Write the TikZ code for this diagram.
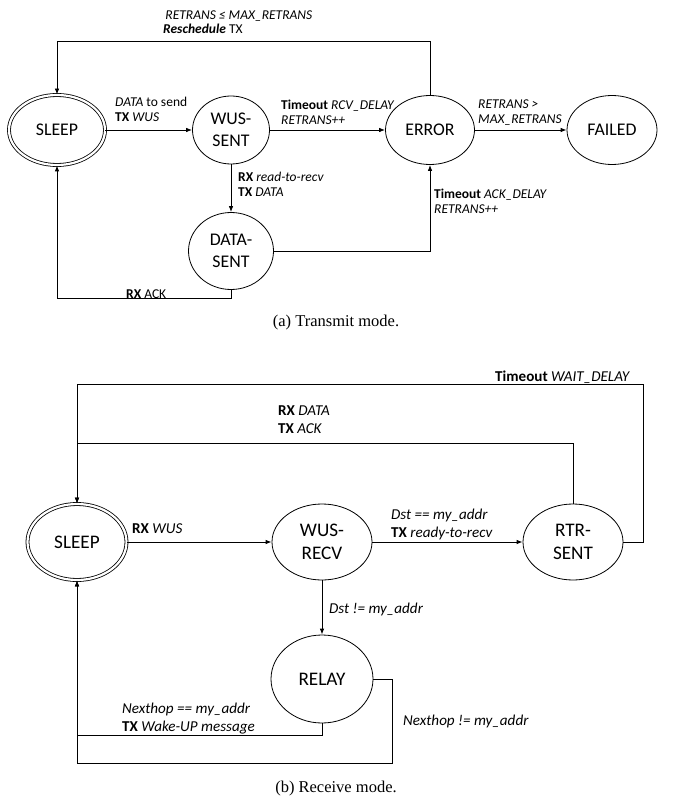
\documentclass[tikz,border=0pt]{standalone}
\usepackage{fontspec}
\setmainfont{Carlito}
\newfontfamily\capfont{Liberation Serif}
\usetikzlibrary{shapes.geometric,arrows.meta}
\begin{document}
\begin{tikzpicture}[x=1pt,y=-1pt,
  st/.style={ellipse,draw,line width=0.8pt,inner sep=0pt,align=center,font=\fontsize{17.8}{21.5}\selectfont},
  stb/.style={st,font=\fontsize{19.2}{23.5}\selectfont},
  start/.style={st,double,double distance=2.2pt},
  startb/.style={stb,double,double distance=2.2pt},
  lbl/.style={anchor=north west,inner sep=0pt,align=left,font=\fontsize{13.5}{15}\selectfont},
  lblb/.style={lbl,font=\fontsize{15.1}{17.5}\selectfont},
  captext/.style={inner sep=0pt,font=\capfont\fontsize{16.5}{18}\selectfont},
  arr/.style={line width=0.8pt,-{Latex[length=6pt,width=4.5pt]}}]
\useasboundingbox (0,0) rectangle (673,802);
% ---------------- (a) Transmit mode
\node[start,minimum width=96pt,minimum height=70pt] (sleep) at (57,130) {SLEEP};
\node[st,minimum width=77pt,minimum height=68pt] (wus) at (231,130) {WUS-\\SENT};
\node[st,minimum width=89pt,minimum height=69pt] (error) at (430,130) {ERROR};
\node[st,minimum width=90pt,minimum height=69pt] (failed) at (612,130) {FAILED};
\node[st,minimum width=85pt,minimum height=77pt] (data) at (231,251) {DATA-\\SENT};
\coordinate (ttop) at (0,41);
\coordinate (tbot) at (0,298);

\draw[arr] (sleep) -- (wus);
\draw[arr] (wus) -- (error);
\draw[arr] (error) -- (failed);
\draw[arr] (wus) -- (data);
\draw[arr] (error.north) |- (sleep.north |- ttop) -- (sleep.north);
\draw[arr] (data.south) |- (sleep.south |- tbot) -- (sleep.south);
\draw[arr] (data.east) -| (error.south);

\node[lbl,font=\fontsize{13.5}{13.5}\selectfont] (l1) at (163,11) {\,\textit{RETRANS ≤ MAX\_RETRANS}\\\textbf{\textit{Reschedule}} TX};
\node[lbl] (l2) at (115,97) {\textit{DATA} to send\\\textbf{TX} \textit{WUS}};
\node[lbl] (l3) at (281,99.5) {\textbf{Timeout} \textit{RCV\_DELAY}\\\textit{RETRANS++}};
\node[lbl] (l4) at (478,100) {\textit{RETRANS >}\\\textit{MAX\_RETRANS}};
\node[lbl] (l5) at (238,171.5) {\textbf{RX} \textit{read-to-recv}\\\textbf{TX} \textit{DATA}};
\node[lbl] (l6) at (434,189) {\textbf{Timeout} \textit{ACK\_DELAY}\\\textit{RETRANS++}};
\node[lbl] (l7) at (126,289.5) {\textbf{RX} ACK};
\node[captext] (capa) at (336,323) {(a) Transmit mode.};

% ---------------- (b) Receive mode
\node[startb,minimum width=99pt,minimum height=76pt] (sleepb) at (77,542) {SLEEP};
\node[stb,minimum width=100pt,minimum height=76pt] (wusr) at (322,542) {WUS-\\RECV};
\node[stb,minimum width=100pt,minimum height=76pt] (rtr) at (573,542) {RTR-\\SENT};
\node[stb,minimum width=102pt,minimum height=88pt] (relay) at (322,679) {RELAY};
\coordinate (wo) at (643,384);
\coordinate (wi) at (0,443);
\coordinate (rb1) at (0,735);
\coordinate (rb2) at (392,763);

\draw[arr] (sleepb) -- (wusr);
\draw[arr] (wusr) -- (rtr);
\draw[arr] (wusr) -- (relay);
\draw[arr] (rtr.east) -| (wo) -| (sleepb.north);
\draw[arr] (rtr.north) |- (sleepb.north |- wi) -- (sleepb.north);
\draw[arr] (relay.south) |- (sleepb.south |- rb1) -- (sleepb.south);
\draw[arr] (relay.east) -| (rb2) -| (sleepb.south);

\node[lblb] (m1) at (495,371) {\textbf{Timeout} \textit{WAIT\_DELAY}};
\node[lblb] (m2) at (278,406) {\textbf{RX} \textit{DATA}\\\textbf{TX} \textit{ACK}};
\node[lblb] (m3) at (132,523.5) {\textbf{RX} \textit{WUS}};
\node[lblb] (m4) at (391,509) {\textit{Dst == my\_addr}\\\textbf{TX} \textit{ready-to-recv}};
\node[lblb] (m5) at (329,603) {\textit{Dst != my\_addr}};
\node[lblb] (m6) at (122,703) {\textit{Nexthop == my\_addr}\\\textbf{TX} \textit{Wake-UP message}};
\node[lblb] (m7) at (403,715) {\textit{Nexthop != my\_addr}};
\node[captext] (capb) at (336,789) {(b) Receive mode.};
\end{tikzpicture}
\end{document}
